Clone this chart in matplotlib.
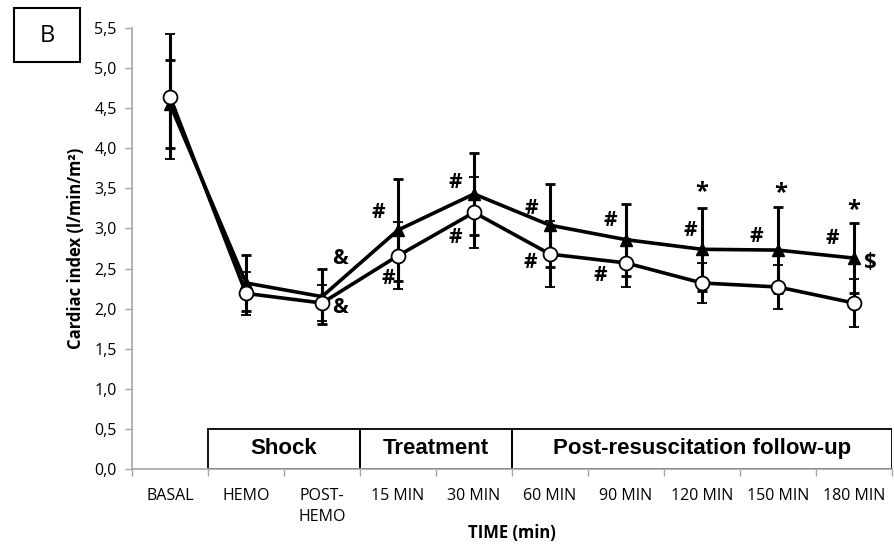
import numpy as np
import matplotlib.pyplot as plt
from matplotlib.patches import Rectangle

# categories and values
times = ['BASAL', 'HEMO', 'POST-\nHEMO', '15 MIN', '30 MIN', '60 MIN',
         '90 MIN', '120 MIN', '150 MIN', '180 MIN']
ci_circle = [4.64, 2.19, 2.07, 2.66, 3.20, 2.68, 2.57, 2.32, 2.27, 2.07]
sd_circle = [0.78, 0.27, 0.23, 0.42, 0.44, 0.41, 0.30, 0.25, 0.27, 0.30]
ci_triangle = [4.55, 2.32, 2.15, 2.98, 3.43, 3.04, 2.86, 2.74, 2.73, 2.63]
sd_triangle = [0.55, 0.35, 0.34, 0.64, 0.51, 0.52, 0.45, 0.52, 0.54, 0.44]

phases = ['Shock', 'Treatment', 'Post-resuscitation follow-up']
phase_start = [1, 3, 5]
phase_end = [2, 4, 9]

# significance marks: (symbol, category index, y value)
marks = [('&', 2, 2.63), ('&', 2, 2.02),
         ('#', 3, 3.20), ('#', 3, 2.38),
         ('#', 4, 3.57), ('#', 4, 2.89),
         ('#', 5, 3.25), ('#', 5, 2.57),
         ('#', 6, 3.10), ('#', 6, 2.41),
         ('#', 7, 2.98), ('#', 8, 2.90), ('#', 9, 2.87),
         ('*', 7, 3.45), ('*', 8, 3.44), ('*', 9, 3.23),
         ('$', 9, 2.57)]
mark_dx = [0.24, 0.24, -0.26, -0.13, -0.25, -0.25, -0.25, -0.26,
           -0.21, -0.34, -0.15, -0.28, -0.28, 0.0, 0.03, 0.0, 0.22]

x = np.arange(len(times))

fig = plt.figure(figsize=(8.95, 5.48), dpi=100)
ax = fig.add_axes([132 / 895, 1 - 469 / 548, 760 / 895, 441 / 548])

ax.errorbar(x, ci_triangle, yerr=sd_triangle, color='black', lw=2.6,
            marker='^', ms=9, mfc='black', mec='black',
            elinewidth=2.2, capsize=3.6, capthick=2, zorder=3)
ax.errorbar(x, ci_circle, yerr=sd_circle, color='black', lw=2.6,
            marker='o', ms=10, mfc='white', mec='black', mew=1.3,
            elinewidth=2.2, capsize=3.6, capthick=2, zorder=4)

for (sym, i, y), dx in zip(marks, mark_dx):
    size = {'#': 15, '*': 17, '&': 15, '$': 16}[sym]
    ax.text(i + dx, y, sym, ha='center', va='center', fontsize=size,
            family='Open Sans', fontweight='bold', zorder=5)

# phase box at the bottom
for name, s, e in zip(phases, phase_start, phase_end):
    ax.add_patch(Rectangle((s - 0.5, 0), e - s + 1, 0.5, fill=False,
                           edgecolor='black', lw=1.3, zorder=2))
    ax.text((s + e) / 2, 0.25, name, ha='center', va='center',
            fontsize=16, fontweight='bold', family='Liberation Sans')

ax.set_xlim(-0.5, 9.5)
ax.set_ylim(0, 5.5)
ax.set_yticks(np.arange(0, 5.51, 0.5))
ax.set_yticklabels([f'{v:.1f}'.replace('.', ',') for v in np.arange(0, 5.51, 0.5)])
ax.set_xticks(np.arange(-0.5, 10, 1))
ax.set_xticklabels([])
ax.set_xticks(x, minor=True)
ax.set_xticklabels(times, minor=True, family='Open Sans', fontsize=11.5,
                   va='top', linespacing=1.4)
ax.tick_params(axis='x', which='minor', length=0, pad=14)
ax.tick_params(axis='x', which='major', length=5, color='#a6a6a6', width=1)
ax.tick_params(axis='y', length=5, color='#a6a6a6', width=1, pad=6,
               labelsize=11.5)
for lab in ax.get_yticklabels():
    lab.set_family('Open Sans')

for side in ['top', 'right']:
    ax.spines[side].set_visible(False)
for side in ['left', 'bottom']:
    ax.spines[side].set_color('#a6a6a6')
    ax.spines[side].set_linewidth(1.2)

ax.set_ylabel('Cardiac index (l/min/m²)', fontsize=12,
              fontweight='bold', family='Open Sans', labelpad=7)
fig.text(512 / 895, 1 - 533 / 548, 'TIME (min)', ha='center', va='center',
         fontsize=12, fontweight='bold', family='Open Sans')

# panel letter
fig.add_artist(Rectangle((14 / 895, 1 - 62 / 548), 66 / 895, 54 / 548,
                         transform=fig.transFigure, fill=False,
                         edgecolor='black', lw=1.5))
fig.text(47 / 895, 1 - 36 / 548, 'B', ha='center', va='center',
         fontsize=17, family='Open Sans')

fig.savefig('out.png', dpi=100)
